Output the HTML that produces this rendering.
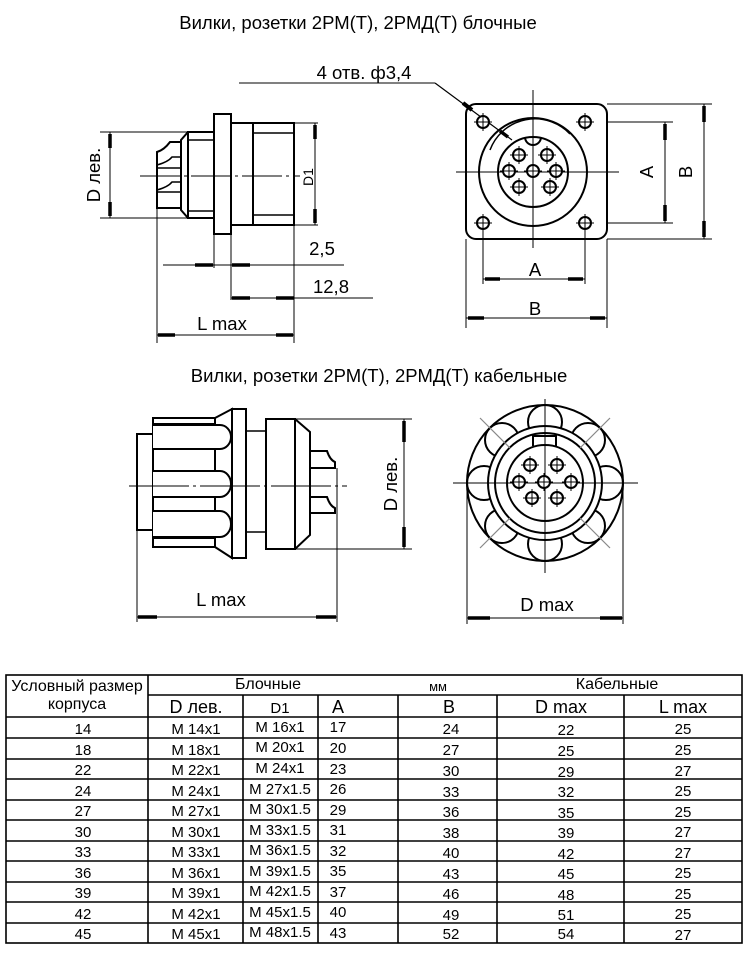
<!DOCTYPE html>
<html><head><meta charset="utf-8"><style>
html,body{margin:0;padding:0;background:#fff;}
svg{display:block;}
text{font-family:"Liberation Sans","DejaVu Sans",sans-serif;fill:#000;}
</style></head><body>
<svg width="750" height="963" viewBox="0 0 750 963" xmlns="http://www.w3.org/2000/svg">
<defs>
<g id="pin"><circle r="6" fill="#fff" stroke="#000" stroke-width="2"/><line x1="-9" y1="0" x2="9" y2="0" stroke="#000" stroke-width="1"/><line x1="0" y1="-9" x2="0" y2="9" stroke="#000" stroke-width="1"/></g>
</defs>
<text x="358" y="29" font-size="18.5" text-anchor="middle">Вилки, розетки 2РМ(Т), 2РМД(Т) блочные</text>
<text x="379" y="382" font-size="18.5" text-anchor="middle">Вилки, розетки 2РМ(Т), 2РМД(Т) кабельные</text>

<g stroke="#000" fill="none">
<g stroke-width="2">
<rect x="214" y="114" width="17" height="120" fill="#fff"/>
<rect x="231" y="123" width="63" height="102"/>
<line x1="253" y1="123" x2="253" y2="225"/>
<line x1="253" y1="133" x2="294" y2="133" stroke-width="1.5"/>
<line x1="253" y1="215" x2="294" y2="215" stroke-width="1.5"/>
<rect x="188" y="132" width="26" height="86"/>
<line x1="188" y1="140" x2="214" y2="140" stroke-width="1.5"/>
<line x1="188" y1="211" x2="214" y2="211" stroke-width="1.5"/>
<path d="M188 132 L181 140 L181 210 L188 218"/>
<path d="M181 142 L170 142 Q164 150 157 152 L157 208 L181 208"/>
<path d="M157 165 Q168 162 172 157 L181 157 M157 190 Q168 187 172 182 L181 182 M157 168 L181 168 M157 192 L181 192" stroke-width="1.5"/>
</g>
<line x1="140" y1="176" x2="300" y2="176" stroke-width="1" stroke-dasharray="40,4,3,4"/>
<g stroke-width="1">
<line x1="100" y1="132" x2="188" y2="132"/><line x1="100" y1="218" x2="188" y2="218"/>
<line x1="110" y1="132" x2="110" y2="218"/>
<line x1="294" y1="123" x2="318" y2="123"/><line x1="294" y1="225" x2="318" y2="225"/>
<line x1="315" y1="123" x2="315" y2="225"/>
<line x1="157" y1="208" x2="157" y2="343"/><line x1="294" y1="225" x2="294" y2="343"/>
<line x1="214" y1="234" x2="214" y2="268"/><line x1="231" y1="234" x2="231" y2="300"/>
<line x1="163" y1="265" x2="344" y2="265"/>
<line x1="231" y1="298" x2="373" y2="298"/>
<line x1="157" y1="335" x2="294" y2="335"/>
</g>
<g stroke-width="3.5">
<line x1="110" y1="134" x2="110" y2="148"/><line x1="110" y1="202" x2="110" y2="216"/>
<line x1="315" y1="125" x2="315" y2="139"/><line x1="315" y1="209" x2="315" y2="223"/>
<line x1="195" y1="265" x2="213" y2="265"/><line x1="232" y1="265" x2="250" y2="265"/>
<line x1="232" y1="298" x2="250" y2="298"/><line x1="276" y1="298" x2="294" y2="298"/>
<line x1="158" y1="335" x2="175" y2="335"/><line x1="276" y1="335" x2="293" y2="335"/>
</g>

<line x1="239" y1="83" x2="435" y2="83" stroke-width="1"/>
<line x1="435" y1="83" x2="512" y2="140" stroke-width="1.2"/>
<line x1="463" y1="103" x2="472" y2="110" stroke-width="4"/>
<line x1="500" y1="131" x2="508" y2="137" stroke-width="3.5"/>
<rect x="466" y="104" width="141" height="135" rx="10" stroke-width="2"/>
<circle cx="533" cy="172" r="54" stroke-width="2"/>
<path d="M 490 150 A 48 48 0 0 1 570 134" stroke-width="1.5"/>
<circle cx="533" cy="172" r="35" stroke-width="2"/>
<path d="M525 137 A8 8 0 0 0 541 137" stroke-width="2"/>
<g stroke-width="1">
<line x1="456" y1="172" x2="619" y2="172"/><line x1="533" y1="90" x2="533" y2="248"/>
<line x1="607" y1="122" x2="673" y2="122"/><line x1="607" y1="223" x2="673" y2="223"/>
<line x1="607" y1="104" x2="712" y2="104"/><line x1="607" y1="239" x2="712" y2="239"/>
<line x1="665" y1="122" x2="665" y2="223"/><line x1="704" y1="104" x2="704" y2="239"/>
<line x1="483" y1="223" x2="483" y2="284"/><line x1="585" y1="223" x2="585" y2="284"/>
<line x1="466" y1="239" x2="466" y2="328"/><line x1="607" y1="239" x2="607" y2="328"/>
<line x1="483" y1="279" x2="585" y2="279"/><line x1="466" y1="318" x2="607" y2="318"/>
</g>
<g stroke-width="3.5">
<line x1="665" y1="124" x2="665" y2="140"/><line x1="665" y1="205" x2="665" y2="221"/>
<line x1="704" y1="106" x2="704" y2="122"/><line x1="704" y1="221" x2="704" y2="237"/>
<line x1="485" y1="279" x2="500" y2="279"/><line x1="568" y1="279" x2="583" y2="279"/>
<line x1="468" y1="318" x2="484" y2="318"/><line x1="590" y1="318" x2="605" y2="318"/>
</g>
</g>
<use href="#pin" x="483" y="122"/><use href="#pin" x="585" y="122"/>
<use href="#pin" x="483" y="223"/><use href="#pin" x="585" y="223"/>
<use href="#pin" x="519" y="155"/><use href="#pin" x="547" y="155"/>
<use href="#pin" x="509" y="171"/><use href="#pin" x="533" y="171"/><use href="#pin" x="556" y="171"/>
<use href="#pin" x="519" y="187"/><use href="#pin" x="550" y="187"/>

<text x="364" y="79" font-size="18.5" text-anchor="middle">4 отв. ф3,4</text>
<text transform="translate(100,175) rotate(-90)" font-size="18.5" text-anchor="middle">D лев.</text>
<text transform="translate(313,177) rotate(-90)" font-size="14" text-anchor="middle">D1</text>
<text x="322" y="255" font-size="18.5" text-anchor="middle">2,5</text>
<text x="331" y="293" font-size="18.5" text-anchor="middle">12,8</text>
<text x="222" y="330" font-size="18.5" text-anchor="middle">L max</text>
<text transform="translate(653,172) rotate(-90)" font-size="18.5" text-anchor="middle">A</text>
<text transform="translate(692,172) rotate(-90)" font-size="18.5" text-anchor="middle">B</text>
<text x="535" y="276" font-size="18.5" text-anchor="middle">A</text>
<text x="535" y="315" font-size="18.5" text-anchor="middle">B</text>

<g stroke="#000" fill="none" stroke-width="2">
<rect x="137" y="434" width="16" height="96"/>
<rect x="153" y="418" width="62" height="129"/>
<line x1="153" y1="424" x2="215" y2="424"/><line x1="153" y1="538" x2="215" y2="538"/>
<path d="M153 425 L220 425 A11 12 0 0 1 220 449 L153 449" fill="#fff"/>
<path d="M153 471 L220 471 A11 13 0 0 1 220 497 L153 497" fill="#fff"/>
<path d="M153 511 L220 511 A11 13 0 0 1 220 537 L153 537" fill="#fff"/>
<path d="M215 418 L232 409 L232 558 L215 547"/>
<rect x="232" y="409" width="14" height="149" fill="#fff"/>
<line x1="246" y1="431" x2="266" y2="431" stroke-width="1.5"/><line x1="246" y1="532" x2="266" y2="532" stroke-width="1.5"/>
<rect x="266" y="419" width="29" height="130"/>
<path d="M295 419 L310 432 L310 535 L295 549"/>
<path d="M310 451 L327 451 Q330 460 335 462 L335 468 L310 468"/>
<path d="M310 497 L327 497 Q330 506 335 508 L335 513 L310 513"/>
</g>
<g stroke="#000" stroke-width="1">
<line x1="129" y1="486" x2="347" y2="486" stroke-dasharray="60,4,3,4"/>
<line x1="295" y1="419" x2="412" y2="419"/><line x1="295" y1="549" x2="412" y2="549"/>
<line x1="404" y1="419" x2="404" y2="549"/>
<line x1="137" y1="530" x2="137" y2="622"/><line x1="337" y1="468" x2="337" y2="622"/>
<line x1="137" y1="617" x2="337" y2="617"/>
</g>
<g stroke="#000" stroke-width="3.5">
<line x1="404" y1="421" x2="404" y2="442"/><line x1="404" y1="527" x2="404" y2="547"/>
<line x1="138" y1="617" x2="157" y2="617"/><line x1="316" y1="617" x2="336" y2="617"/>
</g>
<text transform="translate(397,484) rotate(-90)" font-size="18.5" text-anchor="middle">D лев.</text>
<text x="221" y="606" font-size="18.5" text-anchor="middle">L max</text>

<g stroke="#000" fill="none" stroke-width="2">
<circle cx="545" cy="483" r="78"/>
<circle cx="545" cy="422" r="17"/><circle cx="545" cy="544" r="17"/>
<circle cx="484" cy="483" r="17"/><circle cx="606" cy="483" r="17"/>
<circle cx="502" cy="440" r="17"/><circle cx="588" cy="440" r="17"/>
<circle cx="502" cy="526" r="17"/><circle cx="588" cy="526" r="17"/>
<circle cx="545" cy="483" r="57" fill="#fff"/>
<circle cx="545" cy="483" r="50"/>
<circle cx="545" cy="483" r="38"/>
<path d="M533 446 L533 436 L556 436 L556 446"/>
</g>
<g stroke="#888" stroke-width="1.2">
<line x1="480" y1="418" x2="510" y2="448"/><line x1="610" y1="418" x2="580" y2="448"/>
<line x1="480" y1="548" x2="510" y2="518"/><line x1="610" y1="548" x2="580" y2="518"/>
</g>
<g stroke="#000" stroke-width="1">
<line x1="453" y1="483" x2="638" y2="483"/><line x1="545" y1="399" x2="545" y2="573"/>
<line x1="467" y1="483" x2="467" y2="624"/><line x1="623" y1="483" x2="623" y2="624"/>
<line x1="467" y1="618" x2="623" y2="618"/>
</g>
<g stroke="#000" stroke-width="3.5">
<line x1="468" y1="618" x2="490" y2="618"/><line x1="600" y1="618" x2="622" y2="618"/>
</g>
<use href="#pin" x="530" y="465"/><use href="#pin" x="557" y="465"/>
<use href="#pin" x="519" y="482"/><use href="#pin" x="544" y="482"/><use href="#pin" x="571" y="482"/>
<use href="#pin" x="532" y="498"/><use href="#pin" x="557" y="498"/>
<text x="547" y="611" font-size="18.5" text-anchor="middle">D max</text>

<g stroke="#000" stroke-width="1.6" fill="none">
<rect x="6" y="675" width="736" height="268"/>
<line x1="148" y1="675" x2="148" y2="943"/>
<line x1="148" y1="695" x2="742" y2="695"/>
<line x1="6" y1="717" x2="742" y2="717"/>
<line x1="243" y1="695" x2="243" y2="943"/>
<line x1="318" y1="695" x2="318" y2="943"/>
<line x1="398" y1="695" x2="398" y2="943"/>
<line x1="497" y1="695" x2="497" y2="943"/>
<line x1="624" y1="695" x2="624" y2="943"/>
<line x1="6" y1="738" x2="742" y2="738"/><line x1="6" y1="759" x2="742" y2="759"/>
<line x1="6" y1="779" x2="742" y2="779"/><line x1="6" y1="800" x2="742" y2="800"/>
<line x1="6" y1="820" x2="742" y2="820"/><line x1="6" y1="841" x2="742" y2="841"/>
<line x1="6" y1="861" x2="742" y2="861"/><line x1="6" y1="882" x2="742" y2="882"/>
<line x1="6" y1="902" x2="742" y2="902"/><line x1="6" y1="923" x2="742" y2="923"/>
</g>
<g font-size="16" text-anchor="middle">
<text x="77" y="691">Условный размер</text>
<text x="77" y="709">корпуса</text>
<text x="268" y="689">Блочные</text>
<text x="438" y="691" font-size="13">мм</text>
<text x="617" y="689">Кабельные</text>
<text x="196" y="713" font-size="18">D лев.</text>
<text x="280" y="713" font-size="15">D1</text>
<text x="338" y="713" font-size="18">A</text>
<text x="449" y="713" font-size="18">B</text>
<text x="561" y="713" font-size="18">D max</text>
<text x="683" y="713" font-size="18">L max</text>
</g>
<g font-size="15" text-anchor="middle">
<text x="83" y="734">14</text><text x="196" y="734">M 14x1</text><text x="280" y="732">M 16x1</text><text x="338" y="732">17</text><text x="451" y="734">24</text><text x="566" y="735">22</text><text x="683" y="734">25</text>
<text x="83" y="755">18</text><text x="196" y="755">M 18x1</text><text x="280" y="752">M 20x1</text><text x="338" y="753">20</text><text x="451" y="755">27</text><text x="566" y="756">25</text><text x="683" y="755">25</text>
<text x="83" y="775">22</text><text x="196" y="775">M 22x1</text><text x="280" y="773">M 24x1</text><text x="338" y="774">23</text><text x="451" y="776">30</text><text x="566" y="777">29</text><text x="683" y="776">27</text>
<text x="83" y="796">24</text><text x="196" y="796">M 24x1</text><text x="280" y="794">M 27x1.5</text><text x="338" y="794">26</text><text x="451" y="797">33</text><text x="566" y="797">32</text><text x="683" y="796">25</text>
<text x="83" y="816">27</text><text x="196" y="816">M 27x1</text><text x="280" y="814">M 30x1.5</text><text x="338" y="815">29</text><text x="451" y="817">36</text><text x="566" y="818">35</text><text x="683" y="817">25</text>
<text x="83" y="837">30</text><text x="196" y="837">M 30x1</text><text x="280" y="835">M 33x1.5</text><text x="338" y="835">31</text><text x="451" y="838">38</text><text x="566" y="838">39</text><text x="683" y="837">27</text>
<text x="83" y="857">33</text><text x="196" y="857">M 33x1</text><text x="280" y="855">M 36x1.5</text><text x="338" y="856">32</text><text x="451" y="858">40</text><text x="566" y="859">42</text><text x="683" y="858">27</text>
<text x="83" y="878">36</text><text x="196" y="878">M 36x1</text><text x="280" y="876">M 39x1.5</text><text x="338" y="876">35</text><text x="451" y="879">43</text><text x="566" y="879">45</text><text x="683" y="878">25</text>
<text x="83" y="898">39</text><text x="196" y="898">M 39x1</text><text x="280" y="896">M 42x1.5</text><text x="338" y="897">37</text><text x="451" y="899">46</text><text x="566" y="900">48</text><text x="683" y="899">25</text>
<text x="83" y="919">42</text><text x="196" y="919">M 42x1</text><text x="280" y="917">M 45x1.5</text><text x="338" y="917">40</text><text x="451" y="920">49</text><text x="566" y="920">51</text><text x="683" y="919">25</text>
<text x="83" y="939">45</text><text x="196" y="939">M 45x1</text><text x="280" y="937">M 48x1.5</text><text x="338" y="938">43</text><text x="451" y="939">52</text><text x="566" y="939">54</text><text x="683" y="940">27</text>
</g>
</svg>
</body></html>
